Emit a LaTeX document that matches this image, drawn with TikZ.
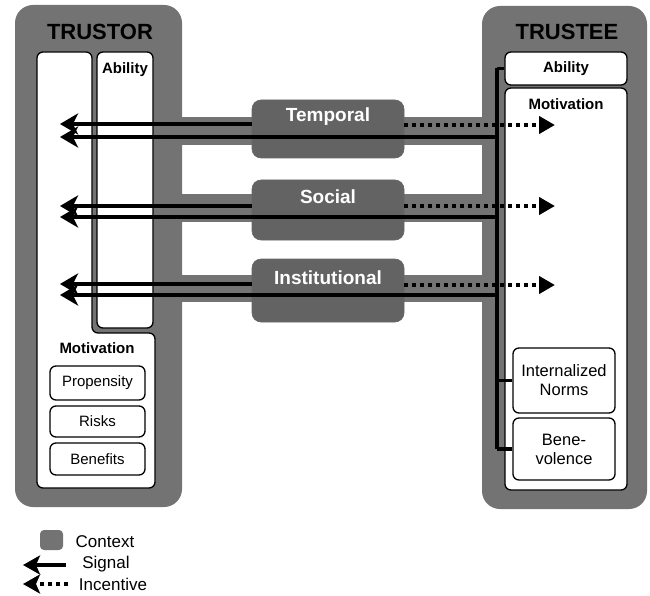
\documentclass[tikz,border=0pt]{standalone}
\usepackage{fontspec}
\setmainfont{Liberation Sans}
\usetikzlibrary{arrows.meta}
\definecolor{ctx}{gray}{0.45}
\definecolor{ctxdark}{gray}{0.39}
\begin{document}
\begin{tikzpicture}[x=1pt,y=-1pt,
  frame/.style={fill=ctx, rounded corners=18pt, inner sep=0pt},
  band/.style={fill=ctx},
  wbox/.style={draw=black, line width=1.3pt, fill=white, rounded corners=6pt, inner sep=0pt},
  ctxbox/.style={draw=black!60, line width=0.6pt, fill=ctxdark, rounded corners=9pt, inner sep=0pt},
  sig/.style={line width=3.8pt, -{Stealth[length=18pt,width=21pt,inset=5pt]}},
  inc/.style={line width=4pt, dash pattern=on 4pt off 4pt, -{Triangle[length=16pt,width=17pt]}},
  spine/.style={line width=3.8pt},
  title/.style={font=\fontsize{22}{24}\selectfont\bfseries},
  lbl/.style={font=\fontsize{15}{17}\selectfont\bfseries},
  txt/.style={font=\fontsize{15}{17}\selectfont, align=center},
  ntxt/.style={font=\fontsize{16.5}{19}\selectfont, align=center},
  ctxlbl/.style={font=\fontsize{19}{21}\selectfont\bfseries, text=white},
  legtxt/.style={font=\fontsize{17}{19}\selectfont}
]
\useasboundingbox (0,0) rectangle (650,596);

% outer frames
\node[frame, minimum width=167pt, minimum height=502pt] (trustor) at (98.5,256) {};
\node[frame, minimum width=165pt, minimum height=503pt] (trustee) at (564.5,257.5) {};

% context bands
\fill[band] (175,117) rectangle (490,145);
\fill[band] (175,194) rectangle (490,222);
\fill[band] (175,275) rectangle (490,302);

% trustor inner boxes
\draw[draw=black, line width=1.3pt, fill=white, rounded corners=6pt]
  (37,52) -- (92,52) -- (92,333) -- (155,333) -- (155,488) -- (37,488) -- cycle;
\node[wbox, minimum width=56pt, minimum height=276pt] (orA) at (125,190) {};
\node[txt] (prop) [wbox, minimum width=95pt, minimum height=34pt] at (97.5,383) {Propensity};
\node[txt] (risk) [wbox, minimum width=95pt, minimum height=31pt] at (97.5,421.5) {Risks};
\node[txt] (bene1) [wbox, minimum width=95pt, minimum height=32pt] at (97.5,459) {Benefits};

% trustee inner boxes
\node[wbox, minimum width=122pt, minimum height=33pt] (teA) at (566,68.5) {};
\node[wbox, minimum width=122pt, minimum height=402pt] (teM) at (566,289) {};
\node[ntxt] (norms) [wbox, minimum width=102pt, minimum height=65pt] at (564,380.5) {Internalized\\Norms};
\node[ntxt] (bene) [wbox, minimum width=102pt, minimum height=62pt] at (564,449) {Bene-\\volence};

% context boxes
\node[ctxbox, minimum width=152pt, minimum height=58pt] (temporal) at (328,129) {};
\node[ctxbox, minimum width=152pt, minimum height=60pt] (social) at (328,210) {};
\node[ctxbox, minimum width=152pt, minimum height=63pt] (inst) at (328,290.5) {};

% spine in trustee
\coordinate (spt) at (497,68.5);
\draw[spine] (spt) -- (teA.west);
\draw[spine] (spt) -- (bene.west -| spt);
\draw[spine] (norms.west -| spt) -- (norms.west);
\draw[spine] (bene.west -| spt) -- (bene.west);

% arrow end points
\coordinate (lT1) at (60,124); \coordinate (lT2) at (60,137);
\coordinate (lS1) at (60,206); \coordinate (lS2) at (60,217);
\coordinate (lI1) at (60,284); \coordinate (lI2) at (60,295);
\coordinate (rT) at (555,125);
\coordinate (rS) at (555,206);
\coordinate (rI) at (555,285);

% signals from trustee (lower lines)
\draw[sig] (spt |- lT2) -- (lT2);
\draw[sig] (spt |- lS2) -- (lS2);
\draw[sig] (spt |- lI2) -- (lI2);
% signals from context (upper lines)
\draw[sig] (temporal.west |- lT1) -- (lT1);
\draw[sig] (social.west |- lS1) -- (lS1);
\draw[sig] (inst.west |- lI1) -- (lI1);
% incentives
\draw[inc] (temporal.east |- rT) -- (rT);
\draw[inc] (social.east |- rS) -- (rS);
\draw[inc] (inst.east |- rI) -- (rI);

% labels
\node[title] (ttor) at (100,32) {TRUSTOR};
\node[title] (ttee) at (567,32) {TRUSTEE};
\node[lbl] (orAl) at (125,70) {Ability};
\node[lbl] (orMl) at (97,348) {Motivation};
\node[lbl] (teAl) at (566,68.5) {Ability};
\node[lbl] (teMl) at (566,104) {Motivation};
\node[ctxlbl] (templ) at (328,117) {Temporal};
\node[ctxlbl] (socl) at (328,197) {Social};
\node[ctxlbl] (instl) at (328,278) {Institutional};

% legend
\node[fill=ctx, rounded corners=4pt, minimum width=23pt, minimum height=20pt, inner sep=0pt] (legctx) at (51.5,540) {};
\node[legtxt] (legc) at (105,542) {Context};
\coordinate (ls0) at (66,565); \coordinate (ls1) at (23,565);
\draw[line width=4pt, -{Stealth[length=17pt,width=19pt,inset=4pt]}] (ls0) -- (ls1);
\node[legtxt] (legs) at (106,564) {Signal};
\coordinate (li0) at (68,584); \coordinate (li1) at (23,584);
\draw[line width=4pt, dash pattern=on 4pt off 4pt, -{Stealth[length=17pt,width=19pt,inset=4pt]}] (li0) -- (li1);
\node[legtxt] (legi) at (113,584) {Incentive};
\end{tikzpicture}
\end{document}
